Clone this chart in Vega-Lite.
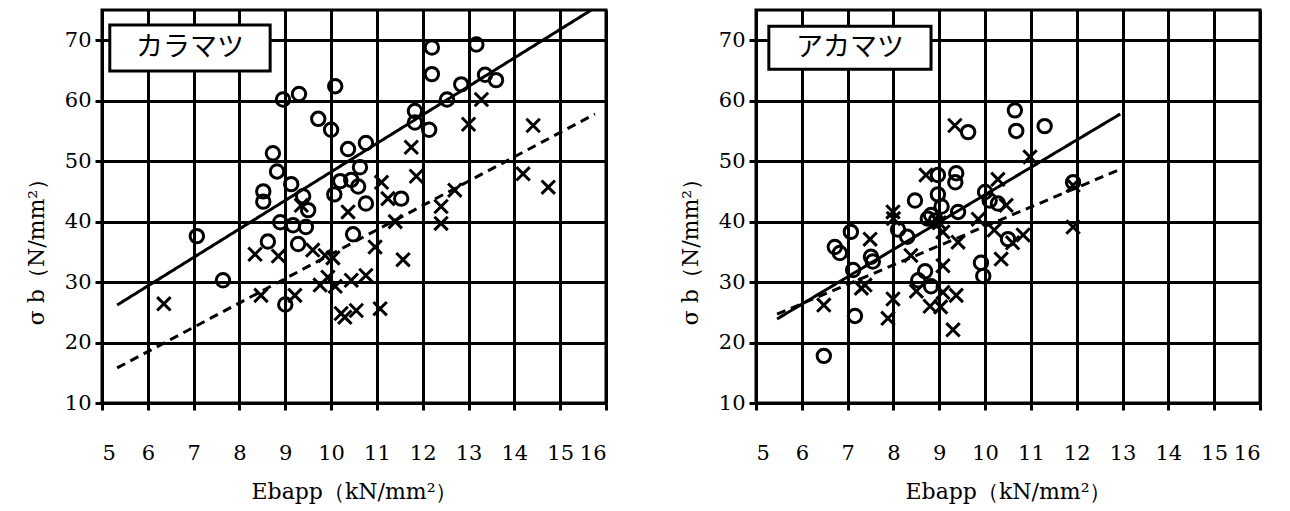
{
  "$schema": "https://vega.github.io/schema/vega-lite/v6.json",
  "background": "white",
  "padding": {"left": 23, "top": 8, "right": 0, "bottom": 0},
  "autosize": {"type": "pad"},
  "spacing": 150,
  "bounds": "flush",
  "config": {
    "view": {"stroke": "black", "strokeWidth": 3},
    "axis": {
      "labelFont": "DejaVu Serif", "labelFontSize": 21, "labelColor": "black",
      "titleFont": "DejaVu Serif", "titleFontSize": 22, "titleFontWeight": "normal", "titleColor": "black",
      "grid": true, "gridColor": "black", "gridWidth": 3, "gridOpacity": 1,
      "domainColor": "black", "domainWidth": 3, "tickColor": "black", "tickWidth": 3, "tickSize": 7
    },
    "axisX": {"labelPadding": 32, "titlePadding": 18},
    "axisY": {"labelPadding": 4, "titlePadding": 16, "titleY": 236}
  },
  "datasets": {
    "kPts": [
      {"E":7.07,"s":37.6,"m":"o"},{"E":7.64,"s":30.3,"m":"o"},{"E":8.52,"s":45.0,"m":"o"},{"E":8.52,"s":43.3,"m":"o"},
      {"E":8.62,"s":36.7,"m":"o"},{"E":8.73,"s":51.3,"m":"o"},{"E":8.82,"s":48.3,"m":"o"},{"E":8.89,"s":39.9,"m":"o"},
      {"E":8.95,"s":60.2,"m":"o"},{"E":9.0,"s":26.3,"m":"o"},{"E":9.13,"s":46.2,"m":"o"},{"E":9.17,"s":39.4,"m":"o"},
      {"E":9.28,"s":36.3,"m":"o"},{"E":9.3,"s":61.1,"m":"o"},{"E":9.39,"s":44.2,"m":"o"},{"E":9.45,"s":39.1,"m":"o"},
      {"E":9.5,"s":41.9,"m":"o"},{"E":9.72,"s":57.0,"m":"o"},{"E":10.0,"s":55.2,"m":"o"},{"E":10.07,"s":44.5,"m":"o"},
      {"E":10.09,"s":62.4,"m":"o"},{"E":10.2,"s":46.7,"m":"o"},{"E":10.37,"s":52.0,"m":"o"},{"E":10.44,"s":46.9,"m":"o"},
      {"E":10.48,"s":37.9,"m":"o"},{"E":10.59,"s":45.8,"m":"o"},{"E":10.63,"s":49.0,"m":"o"},{"E":10.76,"s":53.0,"m":"o"},
      {"E":10.76,"s":43.0,"m":"o"},{"E":11.53,"s":43.8,"m":"o"},{"E":11.83,"s":58.3,"m":"o"},{"E":11.83,"s":56.4,"m":"o"},
      {"E":12.14,"s":55.2,"m":"o"},{"E":12.2,"s":68.8,"m":"o"},{"E":12.2,"s":64.4,"m":"o"},{"E":12.53,"s":60.2,"m":"o"},
      {"E":12.84,"s":62.7,"m":"o"},{"E":13.17,"s":69.3,"m":"o"},{"E":13.36,"s":64.3,"m":"o"},{"E":13.6,"s":63.4,"m":"o"},
      {"E":6.35,"s":26.4,"m":"x"},{"E":8.34,"s":34.6,"m":"x"},{"E":8.47,"s":27.8,"m":"x"},{"E":8.85,"s":34.3,"m":"x"},
      {"E":9.21,"s":27.8,"m":"x"},{"E":9.35,"s":42.7,"m":"x"},{"E":9.6,"s":35.3,"m":"x"},{"E":9.87,"s":34.4,"m":"x"},
      {"E":10.04,"s":34.0,"m":"x"},{"E":9.93,"s":30.8,"m":"x"},{"E":9.76,"s":29.5,"m":"x"},{"E":10.09,"s":29.3,"m":"x"},
      {"E":10.22,"s":24.8,"m":"x"},{"E":10.3,"s":24.2,"m":"x"},{"E":10.37,"s":41.6,"m":"x"},{"E":10.44,"s":30.3,"m":"x"},
      {"E":10.55,"s":25.3,"m":"x"},{"E":10.76,"s":31.1,"m":"x"},{"E":10.96,"s":35.8,"m":"x"},{"E":11.07,"s":25.6,"m":"x"},
      {"E":11.1,"s":46.5,"m":"x"},{"E":11.24,"s":43.8,"m":"x"},{"E":11.4,"s":40.0,"m":"x"},{"E":11.57,"s":33.7,"m":"x"},
      {"E":11.75,"s":52.3,"m":"x"},{"E":11.86,"s":47.5,"m":"x"},{"E":12.4,"s":42.5,"m":"x"},{"E":12.4,"s":39.7,"m":"x"},
      {"E":12.7,"s":45.2,"m":"x"},{"E":13.0,"s":56.1,"m":"x"},{"E":13.28,"s":60.2,"m":"x"},{"E":14.19,"s":47.9,"m":"x"},
      {"E":14.41,"s":55.9,"m":"x"},{"E":14.74,"s":45.7,"m":"x"}
    ],
    "kLine": [
      {"E":5.33,"s":26.2,"t":"solid"},{"E":15.68,"s":75.0,"t":"solid"},
      {"E":5.33,"s":15.8,"t":"dash"},{"E":15.76,"s":57.8,"t":"dash"}
    ],
    "kBox": [{"x1":5.17,"x2":8.67,"y1":64.9,"y2":72.5,"xm":6.92,"ym":68.7,"label":"カラマツ"}],
    "aPts": [
      {"E":6.48,"s":17.8,"m":"o"},{"E":6.72,"s":35.8,"m":"o"},{"E":6.83,"s":34.8,"m":"o"},{"E":7.07,"s":38.3,"m":"o"},
      {"E":7.12,"s":32.0,"m":"o"},{"E":7.16,"s":24.4,"m":"o"},{"E":7.51,"s":34.2,"m":"o"},{"E":7.55,"s":33.4,"m":"o"},
      {"E":8.1,"s":38.7,"m":"o"},{"E":8.3,"s":37.5,"m":"o"},{"E":8.47,"s":43.5,"m":"o"},{"E":8.54,"s":30.3,"m":"o"},
      {"E":8.69,"s":31.8,"m":"o"},{"E":8.82,"s":29.3,"m":"o"},{"E":8.82,"s":41.1,"m":"o"},{"E":8.93,"s":40.2,"m":"o"},
      {"E":8.97,"s":47.7,"m":"o"},{"E":8.97,"s":44.5,"m":"o"},{"E":9.05,"s":42.5,"m":"o"},{"E":9.35,"s":46.5,"m":"o"},
      {"E":9.37,"s":48.0,"m":"o"},{"E":9.41,"s":41.6,"m":"o"},{"E":9.63,"s":54.8,"m":"o"},{"E":9.91,"s":33.2,"m":"o"},
      {"E":9.96,"s":31.0,"m":"o"},{"E":10.0,"s":44.9,"m":"o"},{"E":10.1,"s":43.5,"m":"o"},{"E":10.28,"s":43.0,"m":"o"},
      {"E":10.5,"s":37.1,"m":"o"},{"E":10.65,"s":58.4,"m":"o"},{"E":10.68,"s":55.0,"m":"o"},{"E":11.3,"s":55.8,"m":"o"},
      {"E":11.92,"s":46.5,"m":"o"},{"E":8.75,"s":40.5,"m":"o"},
      {"E":6.48,"s":26.2,"m":"x"},{"E":7.38,"s":29.5,"m":"x"},{"E":7.3,"s":29.0,"m":"x"},{"E":7.49,"s":37.1,"m":"x"},
      {"E":7.88,"s":24.0,"m":"x"},{"E":7.99,"s":27.2,"m":"x"},{"E":7.99,"s":41.6,"m":"x"},{"E":8.38,"s":34.4,"m":"x"},
      {"E":8.5,"s":28.5,"m":"x"},{"E":8.8,"s":26.0,"m":"x"},{"E":8.71,"s":47.7,"m":"x"},{"E":9.08,"s":38.3,"m":"x"},
      {"E":9.08,"s":32.7,"m":"x"},{"E":9.08,"s":28.3,"m":"x"},{"E":9.03,"s":25.9,"m":"x"},{"E":9.3,"s":22.1,"m":"x"},
      {"E":9.37,"s":27.8,"m":"x"},{"E":9.34,"s":55.9,"m":"x"},{"E":9.41,"s":36.6,"m":"x"},{"E":9.85,"s":40.4,"m":"x"},
      {"E":10.2,"s":38.6,"m":"x"},{"E":10.28,"s":47.0,"m":"x"},{"E":10.35,"s":33.8,"m":"x"},{"E":10.46,"s":42.7,"m":"x"},
      {"E":10.83,"s":37.8,"m":"x"},{"E":10.98,"s":50.7,"m":"x"},{"E":11.92,"s":46.0,"m":"x"},{"E":11.92,"s":39.1,"m":"x"},
      {"E":8.0,"s":40.5,"m":"x"},{"E":9.0,"s":39.8,"m":"x"},{"E":10.6,"s":36.5,"m":"x"}
    ],
    "aLine": [
      {"E":5.46,"s":23.9,"t":"solid"},{"E":12.95,"s":57.8,"t":"solid"},
      {"E":5.46,"s":24.7,"t":"dash"},{"E":12.9,"s":48.5,"t":"dash"}
    ],
    "aBox": [{"x1":5.28,"x2":8.82,"y1":65.2,"y2":72.3,"xm":7.05,"ym":68.75,"label":"アカマツ"}]
  },
  "hconcat": [
    {
      "width": 504, "height": 393,
      "encoding": {
        "x": {"field": "E", "type": "quantitative", "scale": {"domain": [5, 16], "nice": false, "zero": false},
              "axis": {"values": [5,6,7,8,9,10,11,12,13,14,15,16], "title": "Ebapp（kN/mm²）"}},
        "y": {"field": "s", "type": "quantitative", "scale": {"domain": [10, 75], "nice": false, "zero": false},
              "axis": {"values": [10,20,30,40,50,60,70], "title": "σ b（N/mm²）"}}
      },
      "layer": [
        {"data": {"name": "kLine"}, "mark": {"type": "line", "color": "black", "strokeWidth": 3, "clip": true},
         "encoding": {"strokeDash": {"field": "t", "type": "nominal", "scale": {"domain": ["solid","dash"], "range": [[1,0],[9,6]]}, "legend": null}}},
        {"data": {"name": "kPts"}, "mark": {"type": "point", "filled": false, "color": "black", "strokeWidth": 3, "size": 180, "opacity": 1},
         "encoding": {"shape": {"field": "m", "type": "nominal", "scale": {"domain": ["o","x"], "range": ["circle","M-1,-1L1,1M1,-1L-1,1"]}, "legend": null}}},
        {"data": {"name": "kBox"}, "mark": {"type": "rect", "fill": "white", "stroke": "black", "strokeWidth": 3},
         "encoding": {"x": {"field": "x1", "type": "quantitative"}, "x2": {"field": "x2"}, "y": {"field": "y1", "type": "quantitative"}, "y2": {"field": "y2"}}},
        {"data": {"name": "kBox"}, "mark": {"type": "text", "font": "Noto Sans CJK JP", "fontSize": 27, "color": "black", "align": "center", "baseline": "middle"},
         "encoding": {"x": {"field": "xm", "type": "quantitative"}, "y": {"field": "ym", "type": "quantitative"}, "text": {"field": "label"}}}
      ]
    },
    {
      "width": 504, "height": 393,
      "encoding": {
        "x": {"field": "E", "type": "quantitative", "scale": {"domain": [5, 16], "nice": false, "zero": false},
              "axis": {"values": [5,6,7,8,9,10,11,12,13,14,15,16], "title": "Ebapp（kN/mm²）"}},
        "y": {"field": "s", "type": "quantitative", "scale": {"domain": [10, 75], "nice": false, "zero": false},
              "axis": {"values": [10,20,30,40,50,60,70], "title": "σ b（N/mm²）"}}
      },
      "layer": [
        {"data": {"name": "aLine"}, "mark": {"type": "line", "color": "black", "strokeWidth": 3, "clip": true},
         "encoding": {"strokeDash": {"field": "t", "type": "nominal", "scale": {"domain": ["solid","dash"], "range": [[1,0],[9,6]]}, "legend": null}}},
        {"data": {"name": "aPts"}, "mark": {"type": "point", "filled": false, "color": "black", "strokeWidth": 3, "size": 180, "opacity": 1},
         "encoding": {"shape": {"field": "m", "type": "nominal", "scale": {"domain": ["o","x"], "range": ["circle","M-1,-1L1,1M1,-1L-1,1"]}, "legend": null}}},
        {"data": {"name": "aBox"}, "mark": {"type": "rect", "fill": "white", "stroke": "black", "strokeWidth": 3},
         "encoding": {"x": {"field": "x1", "type": "quantitative"}, "x2": {"field": "x2"}, "y": {"field": "y1", "type": "quantitative"}, "y2": {"field": "y2"}}},
        {"data": {"name": "aBox"}, "mark": {"type": "text", "font": "Noto Sans CJK JP", "fontSize": 27, "color": "black", "align": "center", "baseline": "middle"},
         "encoding": {"x": {"field": "xm", "type": "quantitative"}, "y": {"field": "ym", "type": "quantitative"}, "text": {"field": "label"}}}
      ]
    }
  ]
}
